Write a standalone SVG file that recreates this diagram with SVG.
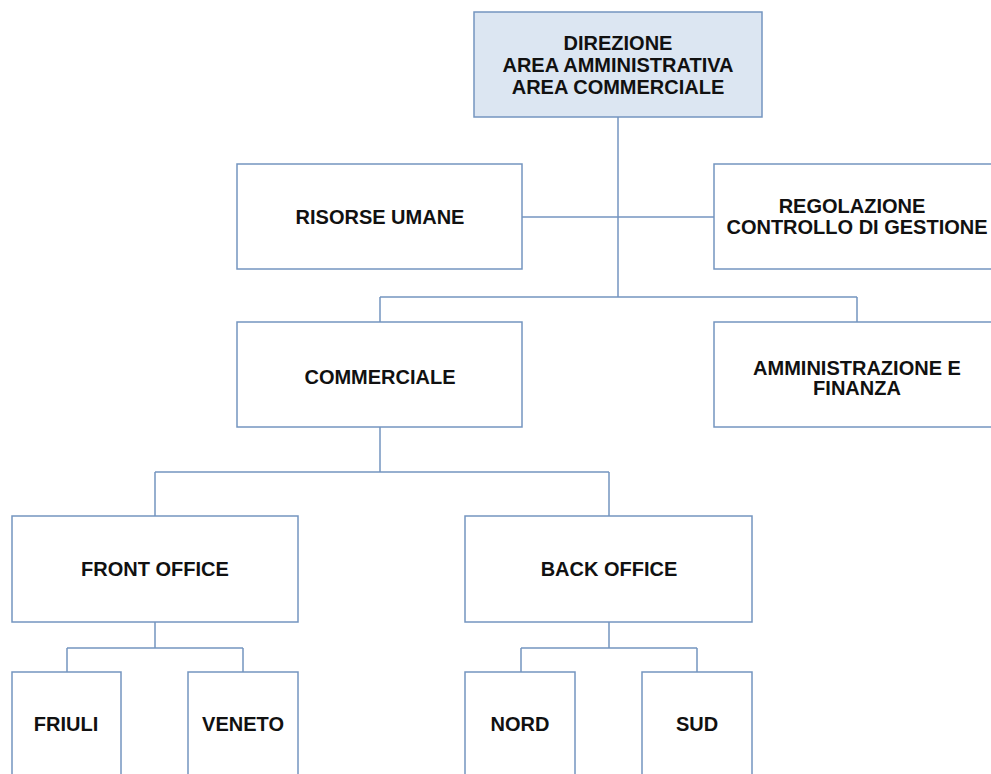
<svg xmlns="http://www.w3.org/2000/svg" width="991" height="774" viewBox="0 0 991 774">
<style>
.box{fill:#ffffff;stroke:#7495c0;stroke-width:1.5}
.top{fill:#dce6f2}
.lbl{font-family:"Liberation Sans",Arial,sans-serif;font-weight:bold;font-size:20px;fill:#111;text-anchor:middle}
.conn{fill:none;stroke:#7495c0;stroke-width:1.5}
</style>
<rect width="991" height="774" fill="#ffffff"/>
<g id="connectors">
<path class="conn" d="M618 117 V297"/>
<path class="conn" d="M522 217 H714"/>
<path class="conn" d="M380 297 H857 M380 297 V322 M857 297 V322"/>
<path class="conn" d="M380 427 V472 M155 472 H609 M155 472 V516 M609 472 V516"/>
<path class="conn" d="M155 622 V648 M67 648 H243 M67 648 V672 M243 648 V672"/>
<path class="conn" d="M609 622 V648 M521 648 H697 M521 648 V672 M697 648 V672"/>
</g>
<g id="direzione">
<rect class="box top" x="474" y="12" width="288" height="105"/>
<text class="lbl" x="618" y="50">DIREZIONE</text>
<text class="lbl" x="618" y="72">AREA AMMINISTRATIVA</text>
<text class="lbl" x="618" y="94">AREA COMMERCIALE</text>
</g>
<g id="risorse-umane">
<rect class="box" x="237" y="164" width="285" height="105"/>
<text class="lbl" x="380" y="224">RISORSE UMANE</text>
</g>
<g id="regolazione">
<rect class="box" x="714" y="164" width="287" height="105"/>
<text class="lbl" x="852" y="213">REGOLAZIONE</text>
<text class="lbl" x="857" y="234">CONTROLLO DI GESTIONE</text>
</g>
<g id="commerciale">
<rect class="box" x="237" y="322" width="285" height="105"/>
<text class="lbl" x="380" y="384">COMMERCIALE</text>
</g>
<g id="amministrazione">
<rect class="box" x="714" y="322" width="287" height="105"/>
<text class="lbl" x="857" y="375">AMMINISTRAZIONE E</text>
<text class="lbl" x="857" y="395">FINANZA</text>
</g>
<g id="front-office">
<rect class="box" x="12" y="516" width="286" height="106"/>
<text class="lbl" x="155" y="576">FRONT OFFICE</text>
</g>
<g id="back-office">
<rect class="box" x="465" y="516" width="287" height="106"/>
<text class="lbl" x="609" y="576">BACK OFFICE</text>
</g>
<g id="friuli">
<rect class="box" x="12" y="672" width="109" height="110"/>
<text class="lbl" x="66" y="731">FRIULI</text>
</g>
<g id="veneto">
<rect class="box" x="188" y="672" width="110" height="110"/>
<text class="lbl" x="243" y="731">VENETO</text>
</g>
<g id="nord">
<rect class="box" x="465" y="672" width="110" height="110"/>
<text class="lbl" x="520" y="731">NORD</text>
</g>
<g id="sud">
<rect class="box" x="642" y="672" width="110" height="110"/>
<text class="lbl" x="697" y="731">SUD</text>
</g>
</svg>
